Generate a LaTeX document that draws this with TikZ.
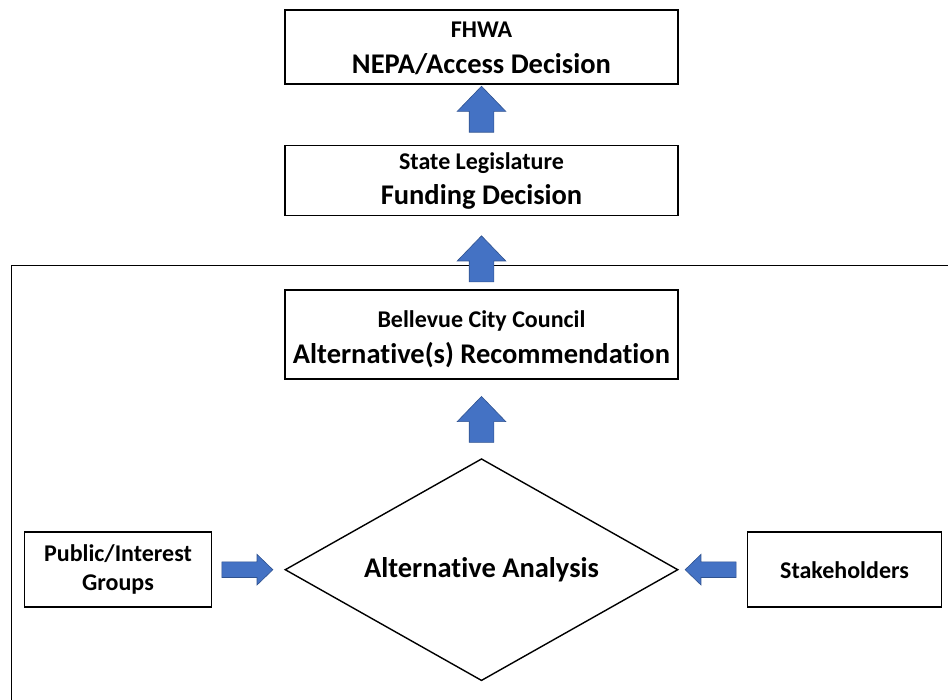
\documentclass[tikz,border=0pt]{standalone}
\usepackage{fontspec}
\setmainfont{Carlito}[Ligatures=NoCommon]
\usetikzlibrary{positioning,calc,shapes.geometric,shapes.arrows}
\definecolor{arrowblue}{HTML}{4472C4}
\definecolor{arrowedge}{HTML}{2F528F}

\begin{document}
\begin{tikzpicture}[x=1pt,y=-1pt,
	box/.style={rectangle, draw, line width=1.6pt, align=center, inner sep=0pt,
		font=\bfseries\fontsize{24}{29}\selectfont},
	decision/.style={box, minimum width=393pt},
	big/.style={font=\bfseries\fontsize{28.5}{34}\selectfont},
	uparrow/.style={single arrow, draw=arrowedge, line width=0.6pt, fill=arrowblue,
		inner xsep=0pt, inner ysep=12pt, rotate=90, minimum height=46pt, minimum width=48pt,
		single arrow head extend=12pt, single arrow tip angle=88},
	sidearrow/.style={uparrow, inner ysep=7.5pt, minimum height=51pt, minimum width=30pt,
		single arrow head extend=7.5pt}]
				\useasboundingbox (0,0) rectangle (948,700);

				% frame round the city process
				\draw[line width=0.8pt] (948,265.5) -| (11.5,700);

				\node[decision, minimum height=74pt] (fhwa) at (481.5,47)
					{\rule{0pt}{24pt}FHWA\\[7pt]{\fontsize{28.5}{34}\selectfont NEPA/Access Decision\rule[-6pt]{0pt}{6pt}}};
				\node[decision, minimum height=70pt] (legis) [below=60pt of fhwa]
					{\rule{0pt}{19pt}State Legislature\\[6pt]{\fontsize{28.5}{34}\selectfont Funding Decision\rule[-6pt]{0pt}{6pt}}};
				\node[decision, minimum height=89pt] (council) [below=73pt of legis]
					{\rule{0pt}{27pt}Bellevue City Council\\[7pt]{\fontsize{28.5}{34}\selectfont Alternative(s) Recommendation\rule[-6pt]{0pt}{6pt}}};
				\node[box, big, diamond, aspect=1.77, minimum width=393pt, minimum height=222pt,
					line width=1.4pt] (analysis) [below=78pt of council]
					{\rule{0pt}{20pt}Alternative Analysis};
				\node[box, minimum width=187pt, minimum height=75pt] (public) [left=72pt of analysis]
					{Public/Interest\\Groups};
				\node[box, minimum width=194pt, minimum height=75pt] (stake) [right=68pt of analysis]
					{Stakeholders};

				\node[uparrow, anchor=tip] (up1) at ($(fhwa.south)+(0,1)$) {};
				\node[uparrow, anchor=tip] (up2) at ($(legis.south)+(0,19)$) {};
				\node[uparrow, anchor=tip] (up3) at ($(council.south)+(0,16)$) {};
				\node[sidearrow, rotate=-90, anchor=tip] (in1) at ($(analysis.west)+(-11,0)$) {};
				\node[sidearrow, rotate=90, anchor=tip] (in2) at ($(analysis.east)+(6,0)$) {};
			\end{tikzpicture}
\end{document}
